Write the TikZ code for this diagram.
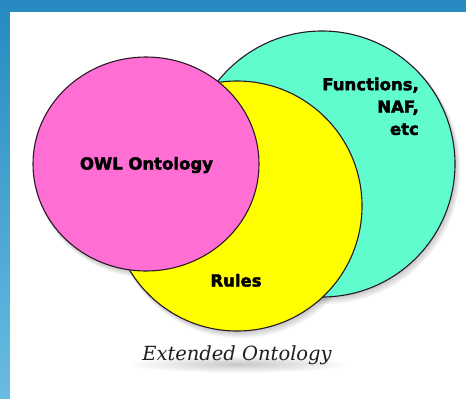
\documentclass[tikz,border=0pt]{standalone}
\usepackage{fontspec}
\newfontfamily\heavysans{DejaVu Sans}[BoldFeatures={FakeBold=2.5}]
\newfontfamily\capserif{DejaVu Serif}
\usetikzlibrary{shapes.geometric}
\definecolor{bgtop}{RGB}{38,138,192}
\definecolor{bgbot}{RGB}{105,188,226}
\definecolor{pinkset}{RGB}{255,110,210}
\definecolor{yellowset}{RGB}{255,255,0}
\definecolor{tealset}{RGB}{96,252,206}
\definecolor{outline}{RGB}{40,25,40}
\definecolor{captext}{RGB}{30,30,30}
\begin{document}
\begin{tikzpicture}[x=1pt,y=-1pt,
  setc/.style={draw=outline, line width=1.1pt, inner sep=0pt, outer sep=0pt},
  lbl/.style={font=\heavysans\bfseries\fontsize{16.5}{22.3}\selectfont, text=black, inner sep=0pt},
  shd/.style={fill=black, fill opacity=0.045}]
\useasboundingbox (0,0) rectangle (466,399);
% background
\shade[top color=bgtop, bottom color=bgbot] (0,0) rectangle (466,399);
\fill[white] (10,12) rectangle (466,399);
% soft shadows
\foreach \d in {1,2,3,4,5}{
  \fill[shd] (322+0.7*\d,164+1.0*\d) circle[radius=133pt+0.4pt*\d];
  \fill[shd] (237+0.7*\d,206+1.0*\d) circle[radius=125pt+0.4pt*\d];
  \fill[shd] (146+0.7*\d,164+1.0*\d) ellipse[x radius=113pt+0.4pt*\d, y radius=107pt+0.4pt*\d];
}
% sets
\node[setc, circle, fill=tealset, minimum size=266pt] (teal) at (322,164) {};
\node[setc, circle, fill=yellowset, minimum size=250pt] (yellow) at (237,206) {};
\node[setc, ellipse, fill=pinkset, minimum width=226pt, minimum height=214pt] (pink) at (146,164) {};
% labels
\node[lbl, anchor=base] (owl) at (146.5,169.5) {OWL Ontology};
\node[lbl, anchor=base] (rules) at (236,286.5) {Rules};
\node[lbl, anchor=north east, align=right] (funcs) at (419,77.5) {Functions,\\NAF,\\etc};
% caption with soft shadow
\shade[inner color=black!22, outer color=white] (239,364) ellipse[x radius=112pt, y radius=9pt];
\node[font=\capserif\itshape\fontsize{19.5}{22}\selectfont, text=captext, anchor=base, inner sep=0pt] (caption) at (237,360.5) {Extended Ontology};
\end{tikzpicture}
\end{document}
